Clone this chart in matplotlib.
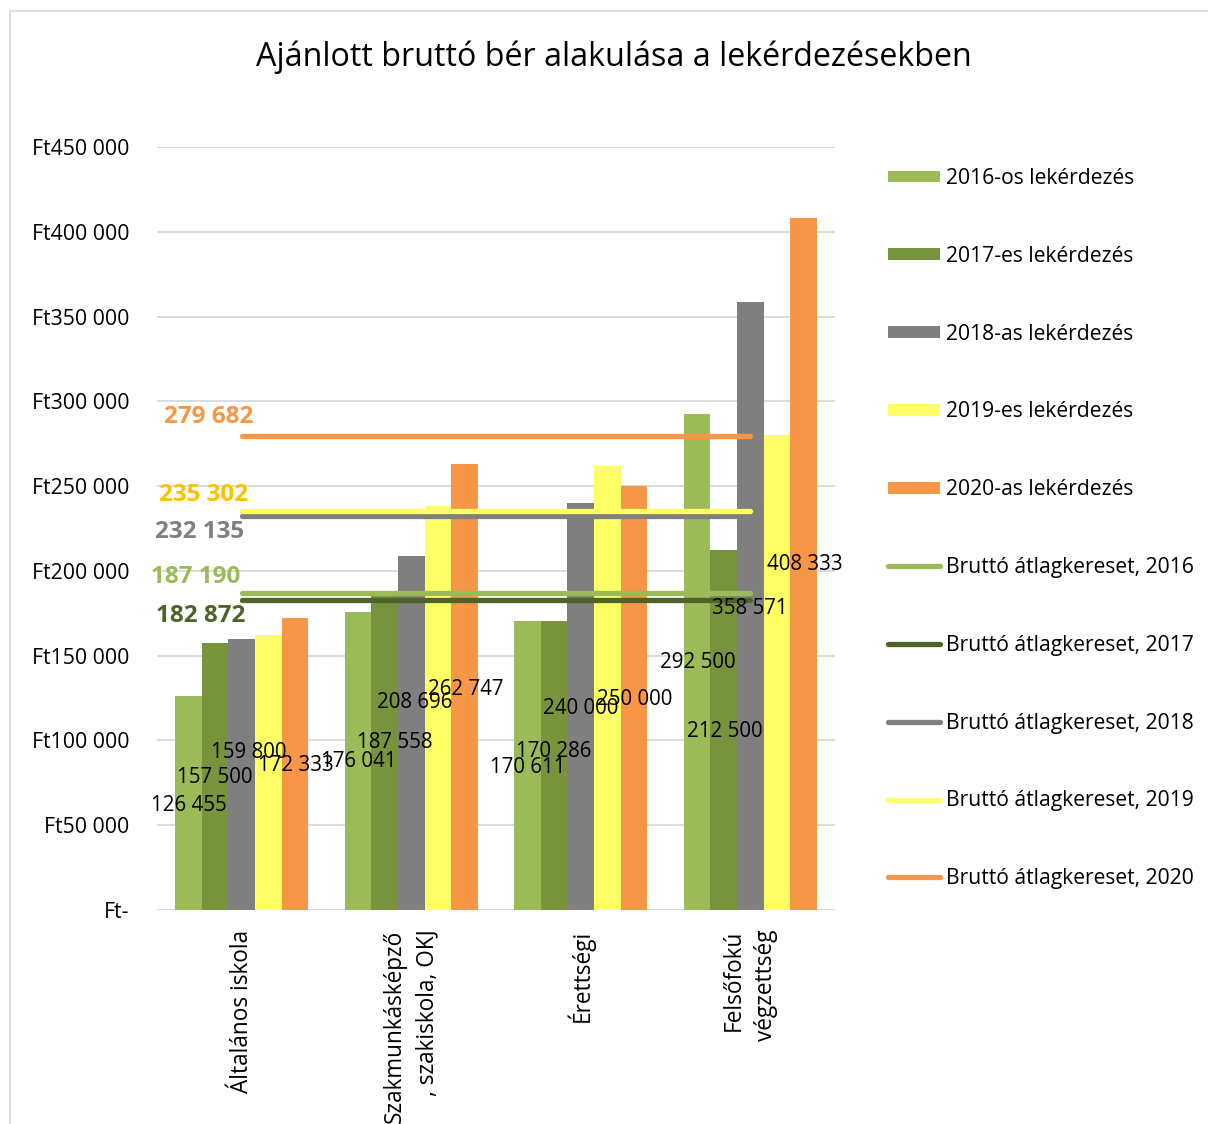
import matplotlib
matplotlib.use("Agg")
import matplotlib.pyplot as plt
from matplotlib.patches import Patch, Rectangle
from matplotlib.lines import Line2D
import numpy as np

plt.rcParams['font.family'] = ['Open Sans', 'DejaVu Sans']

# ---- data ----
categories = ["Általános iskola", "Szakmunkásképző\n, szakiskola, OKJ",
              "Érettségi", "Felsőfokú\nvégzettség"]
survey_names = ["2016-os lekérdezés", "2017-es lekérdezés", "2018-as lekérdezés",
                "2019-es lekérdezés", "2020-as lekérdezés"]
survey_2016 = [126455, 176041, 170611, 292500]
survey_2017 = [157500, 187558, 170286, 212500]
survey_2018 = [159800, 208696, 240000, 358571]
survey_2019 = [162000, 238000, 262000, 280000]
survey_2020 = [172333, 262747, 250000, 408333]

avg_names = ["Bruttó átlagkereset, 2016", "Bruttó átlagkereset, 2017",
             "Bruttó átlagkereset, 2018", "Bruttó átlagkereset, 2019",
             "Bruttó átlagkereset, 2020"]
avg_wage = [187190, 182872, 232135, 235302, 279682]

yticks = [0, 50000, 100000, 150000, 200000, 250000, 300000, 350000, 400000, 450000]
ytick_labels = ["Ft-", "Ft50 000", "Ft100 000", "Ft150 000", "Ft200 000",
                "Ft250 000", "Ft300 000", "Ft350 000", "Ft400 000", "Ft450 000"]

# where the data labels of the bars sit (category units, value units)
bar_label_x = [[-0.31, 0.69, 1.69, 2.69],
               [-0.16, 0.90, 1.84, 2.85],
               [0.04, 1.02, 2.00, 3.00],
               None,
               [0.32, 1.32, 2.32, 3.32]]
bar_label_y = [[61900, 87300, 84300, 145700],
               [77900, 98500, 93200, 105000],
               [92600, 122100, 119100, 178100],
               None,
               [85500, 130300, 124400, 203500]]
# where the average-wage value labels sit
avg_label_x = [-0.27, -0.24, -0.246, -0.223, -0.193]
avg_label_y = [196400, 173400, 222900, 244800, 290800]

bar_colors = ["#9BBB59", "#77933C", "#7F7F7F", "#FFFF66", "#F79646"]
line_colors = ["#9BBB59", "#4F6228", "#7F7F7F", "#FFFF66", "#F79646"]
avg_text_colors = ["#9BBB59", "#4F6228", "#7F7F7F", "#FFC000", "#F79646"]

series = [survey_2016, survey_2017, survey_2018, survey_2019, survey_2020]

W, H = 1208, 1124
fig = plt.figure(figsize=(W / 100, H / 100), dpi=100)
ax = fig.add_axes([157 / W, 1 - 910 / H, (835 - 157) / W, (910 - 147) / H])

x = np.arange(len(categories))
bw = 0.157
for i, vals in enumerate(series):
    ax.bar(x + (i - 2) * bw, vals, width=bw, color=bar_colors[i], zorder=2)

for i, vals in enumerate(series):
    if bar_label_x[i] is None:
        continue
    for v, lx, ly in zip(vals, bar_label_x[i], bar_label_y[i]):
        ax.text(lx, ly, f"{v:,}".replace(",", " "), ha="center", va="center",
                fontsize=14.8, color="black", zorder=5)

for i, v in enumerate(avg_wage):
    ax.plot(x, [v] * len(x), color=line_colors[i], lw=3.8,
            solid_capstyle="round", zorder=3)
    ax.text(avg_label_x[i], avg_label_y[i], f"{v:,}".replace(",", " "),
            ha="center", va="center", fontsize=17.5, fontweight="bold",
            color=avg_text_colors[i], zorder=5)

ax.set_xlim(-0.5, 3.5)
ax.set_ylim(0, 450000)
ax.set_yticks(yticks)
ax.set_yticklabels(ytick_labels, fontsize=15.3)
ax.yaxis.grid(True, color="#D9D9D9", lw=1.3, zorder=0)
ax.set_axisbelow(True)
for s in ax.spines.values():
    s.set_visible(False)
ax.axhline(0, color="#D9D9D9", lw=1.5, zorder=1)
ax.tick_params(axis="both", length=0)
ax.tick_params(axis="y", pad=20)
ax.set_xticks(x)
ax.set_xticklabels(categories, rotation=90, fontsize=16.3, va="top",
                   ha="center", multialignment="right", linespacing=1.45)
ax.tick_params(axis="x", pad=14)

fig.text(614 / W, 1 - 57 / H, "Ajánlott bruttó bér alakulása a lekérdezésekben",
         ha="center", va="center", fontsize=23.2)

handles = [Patch(facecolor=c, edgecolor="none") for c in bar_colors] + \
          [Line2D([0], [0], color=c, lw=3.8, solid_capstyle="round") for c in line_colors]
labels = survey_names + avg_names
fig.legend(handles, labels, loc="upper left", bbox_to_anchor=(888 / W, 1 - 168 / H),
           frameon=False, fontsize=15.2, handlelength=2.45, handleheight=0.48,
           handletextpad=0.28, labelspacing=2.69, borderaxespad=0, borderpad=0)

fig.patches.append(Rectangle((10 / W, -0.01), 1.2, 1 - 11 / H + 0.01,
                             transform=fig.transFigure, fill=False,
                             edgecolor="#D9D9D9", lw=1.2))

fig.savefig("out.png", dpi=100, facecolor="white")
